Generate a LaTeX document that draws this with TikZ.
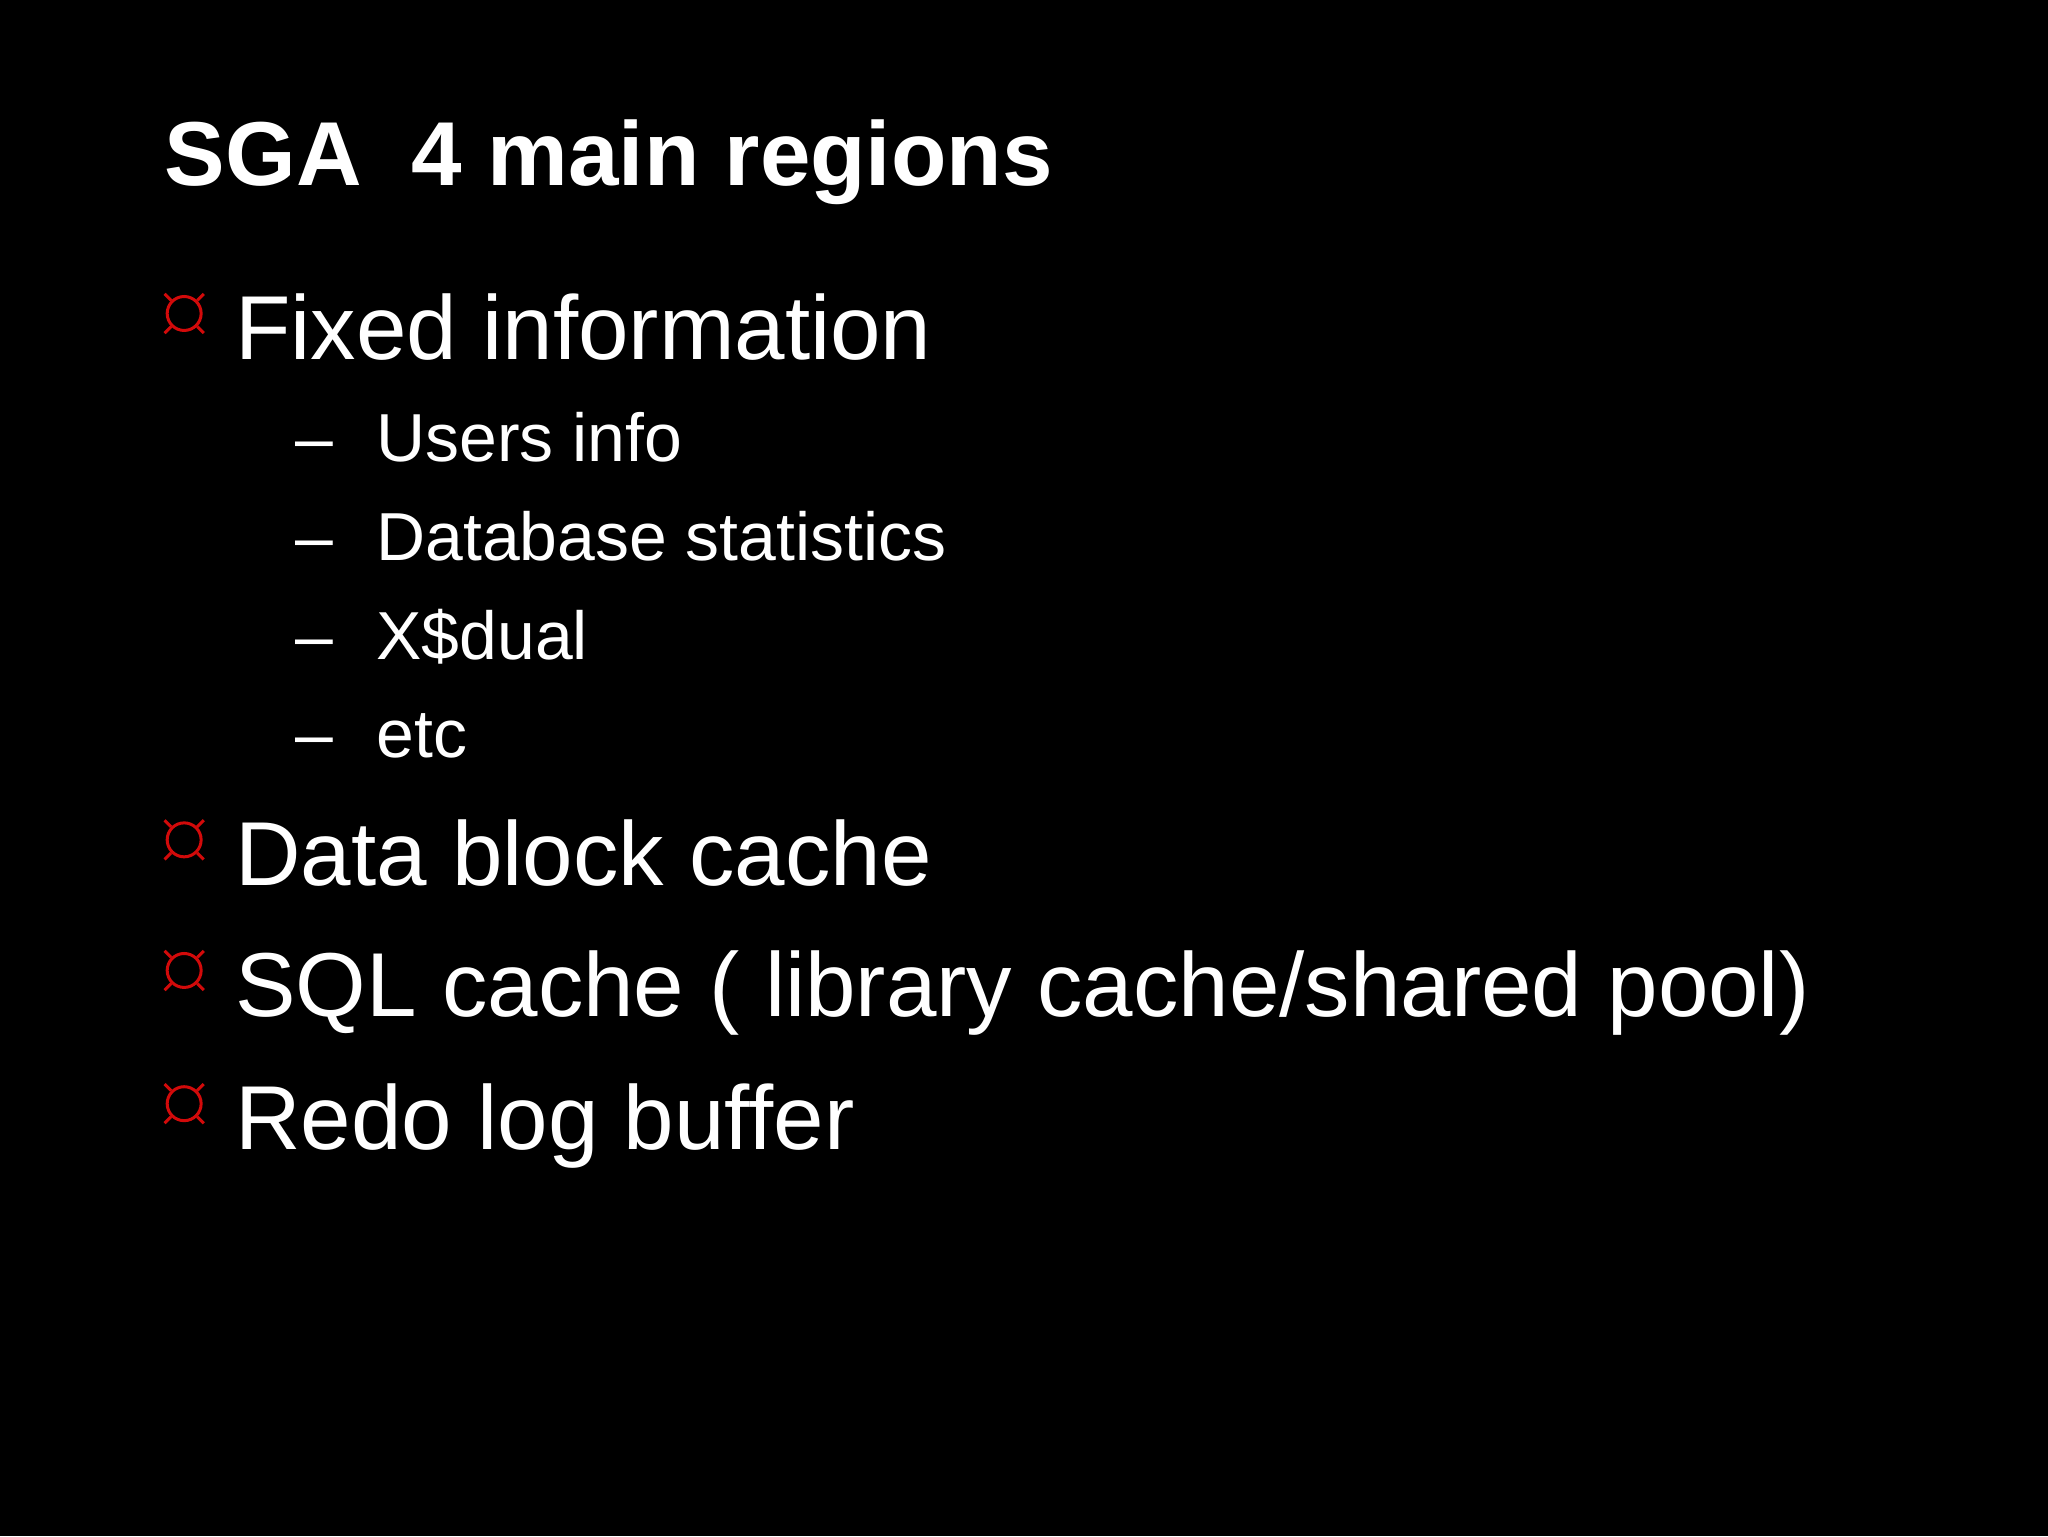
\documentclass[tikz,border=0pt]{standalone}
\usepackage{fontspec}
\setmainfont{Liberation Sans}
\definecolor{bred}{RGB}{210,10,10}
\begin{document}
\begin{tikzpicture}[x=1pt,y=-1pt,
  txt/.style={anchor=base west,inner sep=0pt,text=white},
  big/.style={txt,font=\fontsize{69.5}{69.5}\selectfont},
  small/.style={txt,font=\fontsize{52}{52}\selectfont},
  bul/.style={circle,draw=bred,line width=2.3pt,minimum size=26pt,inner sep=0pt},
  tick/.style={draw=bred,line width=2.3pt}]
\fill[black] (0,0) rectangle (1568,1176);
\useasboundingbox (0,0) rectangle (1568,1176);
\node[txt,font=\fontsize{69.5}{69.5}\selectfont\bfseries] (title) at (126,142) {SGA\ \ 4 main regions};
\node[bul] (b1) at (141,240) {};
\node[big] (t1) at (180,275) {Fixed information};
\node[small] (d1) at (226,353) {–};
\node[small] (s1) at (288,353) {Users info};
\node[small] (d2) at (226,429) {–};
\node[small] (s2) at (288,429) {Database statistics};
\node[small] (d3) at (226,505) {–};
\node[small] (s3) at (288,505) {X\$dual};
\node[small] (d4) at (226,580) {–};
\node[small] (s4) at (288,580) {etc};
\node[bul] (b2) at (141,643) {};
\node[big] (t2) at (180,678) {Data block cache};
\node[bul] (b3) at (141,743) {};
\node[big] (t3) at (180,778) {SQL cache ( library cache/shared pool)};
\node[bul] (b4) at (141,845) {};
\node[big] (t4) at (180,880) {Redo log buffer};
\foreach \b in {b1,b2,b3,b4}{
  \path[tick] (\b.north east) -- ++(5,-5) (\b.north west) -- ++(-5,-5)
    (\b.south west) -- ++(-5,5) (\b.south east) -- ++(5,5);
}
\end{tikzpicture}
\end{document}
